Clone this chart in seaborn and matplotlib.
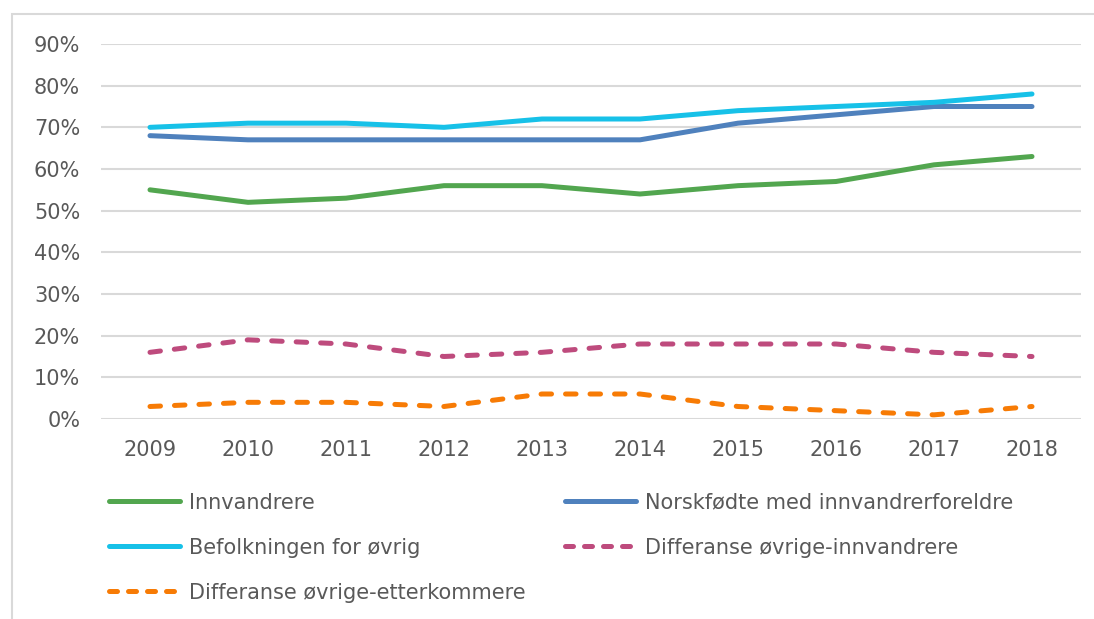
import matplotlib
matplotlib.use("Agg")
import matplotlib.pyplot as plt
from matplotlib.patches import Rectangle
from matplotlib.lines import Line2D
import seaborn as sns
import pandas as pd

years = [2009, 2010, 2011, 2012, 2013, 2014, 2015, 2016, 2017, 2018]
innvandrere = [55, 52, 53, 56, 56, 54, 56, 57, 61, 63]
norskfodte = [68, 67, 67, 67, 67, 67, 71, 73, 75, 75]
befolkningen = [70, 71, 71, 70, 72, 72, 74, 75, 76, 78]
diff_innv = [16, 19, 18, 15, 16, 18, 18, 18, 16, 15]
diff_etterk = [3, 4, 4, 3, 6, 6, 3, 2, 1, 3]
y_ticks = [0, 10, 20, 30, 40, 50, 60, 70, 80, 90]

names = ["Innvandrere", "Norskfødte med innvandrerforeldre", "Befolkningen for øvrig",
         "Differanse øvrige-innvandrere", "Differanse øvrige-etterkommere"]
series = [innvandrere, norskfodte, befolkningen, diff_innv, diff_etterk]
colors = ["#52A64F", "#4F81BD", "#17C1E8", "#BE4B7D", "#F77B05"]

rows = []
for n, vals in zip(names, series):
    for i, (y, v) in enumerate(zip(years, vals)):
        rows.append({"pos": i, "year": y, "value": v / 100.0, "serie": n})
df = pd.DataFrame(rows)

sns.set_theme(style="white")
plt.rcParams["font.family"] = ["DejaVu Sans"]
TXT = "#595959"
FS = 15
LW = 3.6

fig = plt.figure(figsize=(10.94, 6.19), dpi=100)
fig.patches.append(Rectangle((12 / 1094, -0.01), 1.0, 1 - 14 / 619 + 0.01, transform=fig.transFigure,
                             fill=False, edgecolor="#D9D9D9", linewidth=1.5))
ax = fig.add_axes([101 / 1094, 1 - 419 / 619, 980 / 1094, 375 / 619])

palette = dict(zip(names, colors))
dashes = {names[0]: "", names[1]: "", names[2]: "",
          names[3]: (2.1, 2.8), names[4]: (2.1, 2.8)}
sns.lineplot(data=df, x="pos", y="value", hue="serie", style="serie", palette=palette,
             dashes=dashes, linewidth=LW, ax=ax, legend=False, sort=False)
for ln in ax.get_lines():
    ln.set_solid_capstyle("round")
    ln.set_dash_capstyle("round")
    ln.set_solid_joinstyle("round")

ax.set_xlim(-0.5, len(years) - 0.5)
ax.set_ylim(0, 0.9)
ax.set_yticks([t / 100 for t in y_ticks])
ax.set_yticklabels([f"{t}%" for t in y_ticks])
ax.set_xticks(range(len(years)))
ax.set_xticklabels([str(y) for y in years])
ax.tick_params(axis="both", length=0, labelsize=FS, labelcolor=TXT)
ax.tick_params(axis="y", pad=15)
ax.tick_params(axis="x", pad=15)
ax.grid(axis="y", color="#D9D9D9", linewidth=1.5)
ax.set_axisbelow(True)
for s in ax.spines.values():
    s.set_visible(False)
ax.set_xlabel("")
ax.set_ylabel("")

order = [0, 2, 4, 1, 3]
handles = []
for i in order:
    handles.append(Line2D([], [], color=colors[i], linewidth=LW,
                          linestyle="-" if i < 3 else (0, (1.6, 2.2)),
                          solid_capstyle="round", dash_capstyle="round"))
leg = fig.legend(handles, [names[i] for i in order], ncol=2, loc="upper left",
                 bbox_to_anchor=(90 / 1094, 1 - 474 / 619), frameon=False,
                 fontsize=FS, labelcolor=TXT, handlelength=3.4, handletextpad=0.45,
                 columnspacing=1.9, labelspacing=1.2)

fig.savefig("out.png", dpi=100)
